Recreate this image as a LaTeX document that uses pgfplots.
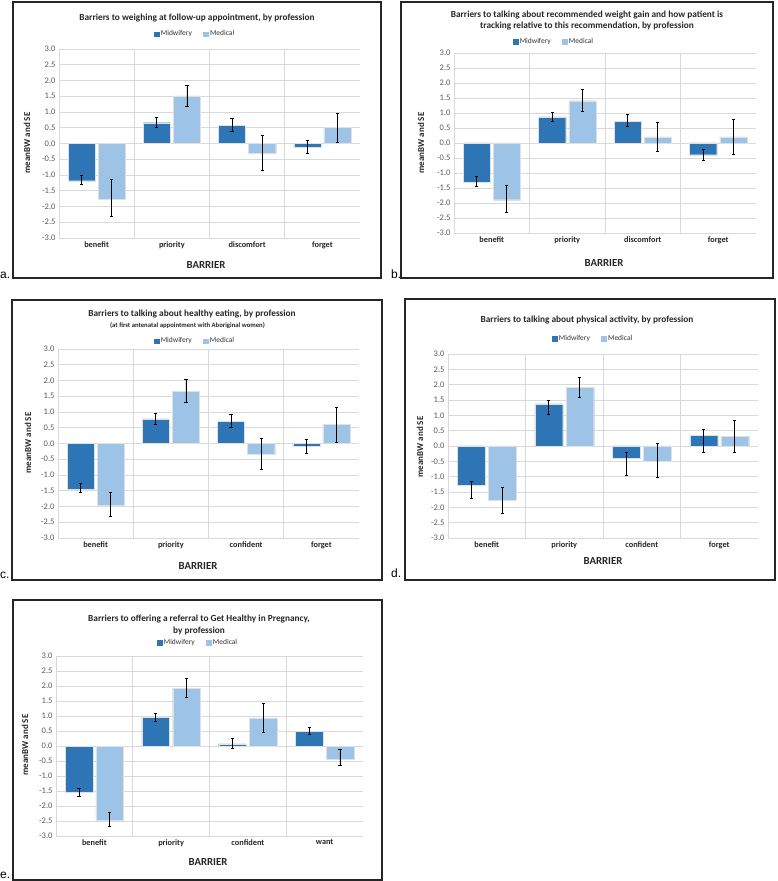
\documentclass[border=0pt]{standalone}
\usepackage{fontspec}
\setmainfont{Carlito}
\newfontfamily\arial{Liberation Sans}
\usepackage{pgfplots}
\pgfplotsset{compat=1.18}
\usepackage{pgfplotstable}
\definecolor{mid}{HTML}{2E75B6}
\definecolor{med}{HTML}{9DC3E6}
\definecolor{gridc}{HTML}{D9D9D9}
\definecolor{tickc}{HTML}{595959}

\pgfplotstableread{
x m mhi mlo d dhi dlo
0 -1.18 -1.02 -1.31 -1.76 -1.15 -2.32
1 0.66 0.82 0.51 1.51 1.84 1.17
2 0.585 0.80 0.37 -0.32 0.245 -0.84
3 -0.12 0.085 -0.30 0.51 0.97 0.02
}\tA
\pgfplotstableread{
x m mhi mlo d dhi dlo
0 -1.30 -1.13 -1.44 -1.89 -1.43 -2.31
1 0.87 1.03 0.71 1.41 1.78 1.06
2 0.73 0.94 0.54 0.20 0.68 -0.29
3 -0.39 -0.20 -0.58 0.20 0.79 -0.38
}\tB
\pgfplotstableread{
x m mhi mlo d dhi dlo
0 -1.44 -1.26 -1.56 -1.96 -1.55 -2.31
1 0.78 0.95 0.61 1.65 2.04 1.30
2 0.71 0.92 0.51 -0.34 0.17 -0.83
3 -0.095 0.12 -0.31 0.60 1.15 0.04
}\tC
\pgfplotstableread{
x m mhi mlo d dhi dlo
0 -1.29 -1.14 -1.71 -1.78 -1.34 -2.21
1 1.37 1.50 1.02 1.92 2.25 1.60
2 -0.41 -0.21 -0.96 -0.50 0.10 -1.02
3 0.34 0.54 -0.21 0.32 0.84 -0.22
}\tD
\pgfplotstableread{
x m mhi mlo d dhi dlo
0 -1.54 -1.40 -1.69 -2.47 -2.21 -2.67
1 0.95 1.10 0.82 1.93 2.26 1.61
2 0.067 0.24 -0.09 0.94 1.41 0.44
3 0.50 0.63 0.38 -0.43 -0.12 -0.65
}\tE

\pgfplotsset{
  panel/.style={
    anchor=south west, scale only axis,
    xmin=-0.5, xmax=3.5, ymin=-3, ymax=3,
    ytick={-3,-2.5,-2,-1.5,-1,-0.5,0,0.5,1,1.5,2,2.5,3},
    xtick={0,1,2,3},
    extra x ticks={0.5,1.5,2.5}, extra x tick labels={},
    extra x tick style={grid=major},
    ymajorgrids, major grid style={gridc, line width=0.6pt},
    major tick length=0pt,
    axis x line*=bottom, axis y line*=left,
    axis line style={-, gridc, line width=0.6pt},
    /pgf/number format/.cd, fixed, fixed zerofill, precision=1, assume math mode=true,
    /pgfplots/.cd,
    yticklabel style={font=\fontsize{8.5}{9}\selectfont, text=tickc},
    xticklabel style={font=\bfseries\fontsize{8.3}{9}\selectfont, text=black!85},
    legend columns=2,
    legend style={draw=none, fill=none, anchor=center, inner sep=0pt,
      font=\fontsize{7.5}{8}\selectfont, text=black!80,
      /tikz/every even column/.append style={column sep=9pt}},
  },
  midbar/.style={ybar, bar width=0.36, bar shift=0pt, fill=mid, draw=black!12, line width=0.3pt,
    legend image code/.code={\fill[mid] (0pt,-2.4pt) rectangle (4.8pt,2.4pt);},
    error bars/.cd, y dir=both, y explicit,
    error bar style={line width=0.8pt, black},
    error mark options={rotate=90, mark size=1.6pt, line width=0.8pt, black}},
  medbar/.style={ybar, bar width=0.36, bar shift=0pt, fill=med, draw=black!12, line width=0.3pt,
    legend image code/.code={\fill[med] (0pt,-2.4pt) rectangle (4.8pt,2.4pt);},
    error bars/.cd, y dir=both, y explicit,
    error bar style={line width=0.8pt, black},
    error mark options={rotate=90, mark size=1.6pt, line width=0.8pt, black}},
}

\newcommand{\bars}[1]{%
  \addplot[midbar] table[x expr=\thisrow{x}-0.2, y=m,
    y error plus expr=\thisrow{mhi}-\thisrow{m}, y error minus expr=\thisrow{m}-\thisrow{mlo}] {#1};
  \addlegendentry{Midwifery}
  \addplot[medbar] table[x expr=\thisrow{x}+0.2, y=d,
    y error plus expr=\thisrow{dhi}-\thisrow{d}, y error minus expr=\thisrow{d}-\thisrow{dlo}] {#1};
  \addlegendentry{Medical}
}

\begin{document}
\begin{tikzpicture}[x=1pt,y=1pt]
\path[use as bounding box] (0,0) rectangle (778,881);

% panel a
\begin{axis}[panel, at={(59pt,643pt)}, width=301pt, height=189pt,
  xticklabels={benefit,priority,discomfort,forget},
  legend style={at={(0.452,1.079)}}]
\bars{\tA}
\end{axis}
% panel b
\begin{axis}[panel, at={(454pt,648pt)}, width=302pt, height=180pt,
  xticklabels={benefit,priority,discomfort,forget},
  legend style={at={(0.331,1.061)}}]
\bars{\tB}
\end{axis}
% panel c
\begin{axis}[panel, at={(58pt,343pt)}, width=301pt, height=189pt,
  xticklabels={benefit,priority,confident,forget},
  legend style={at={(0.455,1.042)}}]
\bars{\tC}
\end{axis}
% panel d
\begin{axis}[panel, at={(448pt,343pt)}, width=310pt, height=184pt,
  xticklabels={benefit,priority,confident,forget},
  legend style={at={(0.468,1.082)}}]
\bars{\tD}
\end{axis}
% panel e
\begin{axis}[panel, at={(56pt,45pt)}, width=307pt, height=180pt,
  xticklabels={benefit,priority,confident,want},
  legend style={at={(0.4625,1.072)}}]
\bars{\tE}
\end{axis}

% frames
\draw[black!85, line width=1.2pt] (13,603) rectangle (381,879);
\draw[black!85, line width=1.2pt] (401,603) rectangle (773,879);
\draw[black!85, line width=1.2pt] (12,301) rectangle (382,581);
\draw[black!85, line width=1.2pt] (405,301) rectangle (775,582);
\draw[black!85, line width=1.2pt] (13,1) rectangle (382,281);

% titles
\tikzset{ttl/.style={font=\bfseries\fontsize{9.3}{10}\selectfont, text=black!85, inner sep=0pt},
  bar/.style={font=\bfseries\fontsize{10.8}{11}\selectfont, text=black!85, inner sep=0pt},
  yl/.style={rotate=90, font=\bfseries\fontsize{9}{9}\selectfont, text=black!85, inner sep=0pt},
  lt/.style={font=\arial\fontsize{12}{12}\selectfont, anchor=base west, inner sep=0pt}}
\node[ttl] at (197,863) {Barriers to weighing at follow-up appointment, by profession};
\node[ttl] at (587,866) {Barriers to talking about recommended weight gain and how patient is};
\node[ttl] at (587,855) {tracking relative to this recommendation, by profession};
\node[ttl] at (192,567) {Barriers to talking about healthy eating, by profession};
\node[font=\bfseries\fontsize{6.7}{7}\selectfont, text=black!85, inner sep=0pt] at (187.5,555) {(at first antenatal appointment with Aboriginal women)};
\node[ttl] at (587,561) {Barriers to talking about physical activity, by profession};
\node[ttl] at (199,262) {Barriers to offering a referral to Get Healthy in Pregnancy,};
\node[ttl] at (199,250) {by profession};

\node[bar] at (206,616) {BARRIER};
\node[bar] at (604,618) {BARRIER};
\node[bar] at (198,315) {BARRIER};
\node[bar] at (603,320) {BARRIER};
\node[bar] at (208,19) {BARRIER};

\node[yl] at (27,738) {meanBW and SE};
\node[yl] at (421,738) {meanBW and SE};
\node[yl] at (28,438) {meanBW and SE};
\node[yl] at (420,434) {meanBW and SE};
\node[yl] at (25,136) {meanBW and SE};

\node[lt] at (0,602) {a.};
\node[lt] at (391,602) {b.};
\node[lt] at (0,302) {c.};
\node[lt] at (391,303) {d.};
\node[lt] at (0,2) {e.};
\end{tikzpicture}
\end{document}
